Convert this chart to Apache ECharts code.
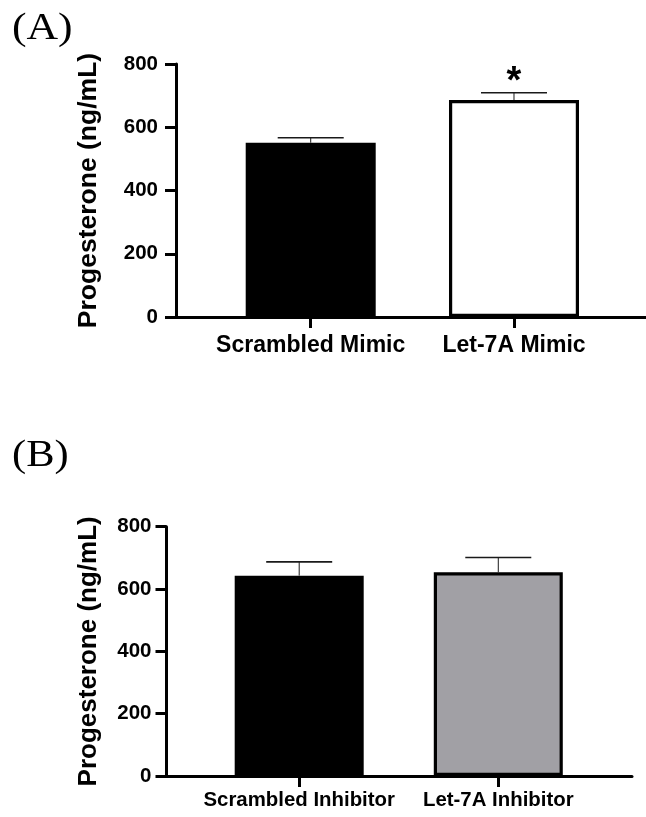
<!DOCTYPE html>
<html>
<head>
<meta charset="utf-8">
<script src="https://cdn.jsdelivr.net/npm/echarts@6/dist/echarts.min.js"></script>
<style>
  html, body { margin: 0; padding: 0; background: #fff; }
  #chart { width: 646px; height: 817px; }
</style>
</head>
<body>
<div id="chart"></div>
<script>
// Panel A: mimic transfection
const catsA = ['Scrambled Mimic', 'Let-7A Mimic'];
const meanA = [551, 686];
const semA = [16, 23];
const sigA = ['', '*'];

// Panel B: inhibitor transfection
const catsB = ['Scrambled Inhibitor', 'Let-7A Inhibitor'];
const meanB = [643, 654];
const semB = [44, 47];
const sigB = ['', ''];

const yTicks = [0, 200, 400, 600, 800];
const yName = 'Progesterone (ng/mL)';

const fillA = ['#000000', '#ffffff'];
const fillB = ['#000000', '#a1a0a5'];

const FONT = '"Liberation Sans", Arial, Helvetica, sans-serif';

const chart = echarts.init(document.getElementById('chart'), null, { renderer: 'canvas' });

function barData(means, fills) {
  return means.map((m, i) => ({
    value: [i, m],
    itemStyle: { color: fills[i], borderColor: '#000', borderWidth: 3.2 }
  }));
}

function errData(means, sems) {
  return means.map((m, i) => [i, m, sems[i]]);
}

// Upper SEM whisker with cap, plus an optional significance mark above it
function errorRenderer(sig) {
  return function (params, api) {
    const x = api.value(0), m = api.value(1), e = api.value(2);
    const base = api.coord([x, m]);
    const tip = api.coord([x, m + e]);
    const half = 33;
    const children = [
      { type: 'line', shape: { x1: base[0], y1: base[1], x2: tip[0], y2: tip[1] },
        style: { stroke: '#1a1a1a', lineWidth: 1 } },
      { type: 'line', shape: { x1: tip[0] - half, y1: tip[1], x2: tip[0] + half, y2: tip[1] },
        style: { stroke: '#1a1a1a', lineWidth: 1.6 } }
    ];
    const mark = sig[params.dataIndex];
    if (mark) {
      children.push({
        type: 'text',
        style: { text: mark, x: tip[0], y: tip[1] - 10, align: 'center', verticalAlign: 'middle',
                 font: 'bold 38px ' + FONT, fill: '#000' }
      });
    }
    return { type: 'group', children };
  };
}

function xAxisFor(gridIndex, cats, min, max, fontSize, margin) {
  return {
    type: 'value', gridIndex, min, max,
    axisLine: { show: true, onZero: false, lineStyle: { color: '#000', width: 3 } },
    axisTick: { show: true, customValues: [0, 1], length: 11, lineStyle: { color: '#000', width: 3 } },
    axisLabel: { show: true, customValues: [0, 1], formatter: v => cats[Math.round(v)] || '',
                 color: '#000', fontFamily: FONT, fontWeight: 'bold', fontSize, margin },
    splitLine: { show: false }
  };
}

function yAxisFor(gridIndex, nameGap, nameSize, labelMargin) {
  return {
    type: 'value', gridIndex, min: yTicks[0], max: yTicks[yTicks.length - 1], interval: 200,
    name: yName, nameLocation: 'middle', nameGap,
    nameTextStyle: { color: '#000', fontFamily: FONT, fontWeight: 'bold', fontSize: nameSize },
    axisLine: { show: true, onZero: false, lineStyle: { color: '#000', width: 3 } },
    axisTick: { show: true, length: 11, lineStyle: { color: '#000', width: 3 } },
    axisLabel: { color: '#000', fontFamily: FONT, fontWeight: 'bold', fontSize: 20.5, margin: labelMargin },
    splitLine: { show: false }
  };
}

chart.setOption({
  animation: false,
  backgroundColor: '#fff',
  grid: [
    { left: 176, top: 64, width: 470, height: 253 },
    { left: 166.5, top: 526.7, width: 465.5, height: 249.3 }
  ],
  xAxis: [
    xAxisFor(0, catsA, -0.6626, 1.6493, 23, 17),
    xAxisFor(1, catsB, -0.6665, 1.6716, 20.4, 14)
  ],
  yAxis: [
    yAxisFor(0, 74, 26.5, 18),
    yAxisFor(1, 65, 26, 15)
  ],
  series: [
    { type: 'bar', xAxisIndex: 0, yAxisIndex: 0, barWidth: 130, data: barData(meanA, fillA) },
    { type: 'custom', xAxisIndex: 0, yAxisIndex: 0, clip: false, z: 5,
      renderItem: errorRenderer(sigA), data: errData(meanA, semA) },
    { type: 'bar', xAxisIndex: 1, yAxisIndex: 1, barWidth: 129, data: barData(meanB, fillB) },
    { type: 'custom', xAxisIndex: 1, yAxisIndex: 1, clip: false, z: 5,
      renderItem: errorRenderer(sigB), data: errData(meanB, semB) }
  ],
  graphic: [
    { type: 'text', x: 12, y: 10, scaleX: 1.15,
      style: { text: '(A)', font: '38px "Liberation Serif", "Times New Roman", serif', fill: '#000', verticalAlign: 'top' } },
    { type: 'text', x: 12, y: 437, scaleX: 1.12,
      style: { text: '(B)', font: '38px "Liberation Serif", "Times New Roman", serif', fill: '#000', verticalAlign: 'top' } }
  ]
});
</script>
</body>
</html>
